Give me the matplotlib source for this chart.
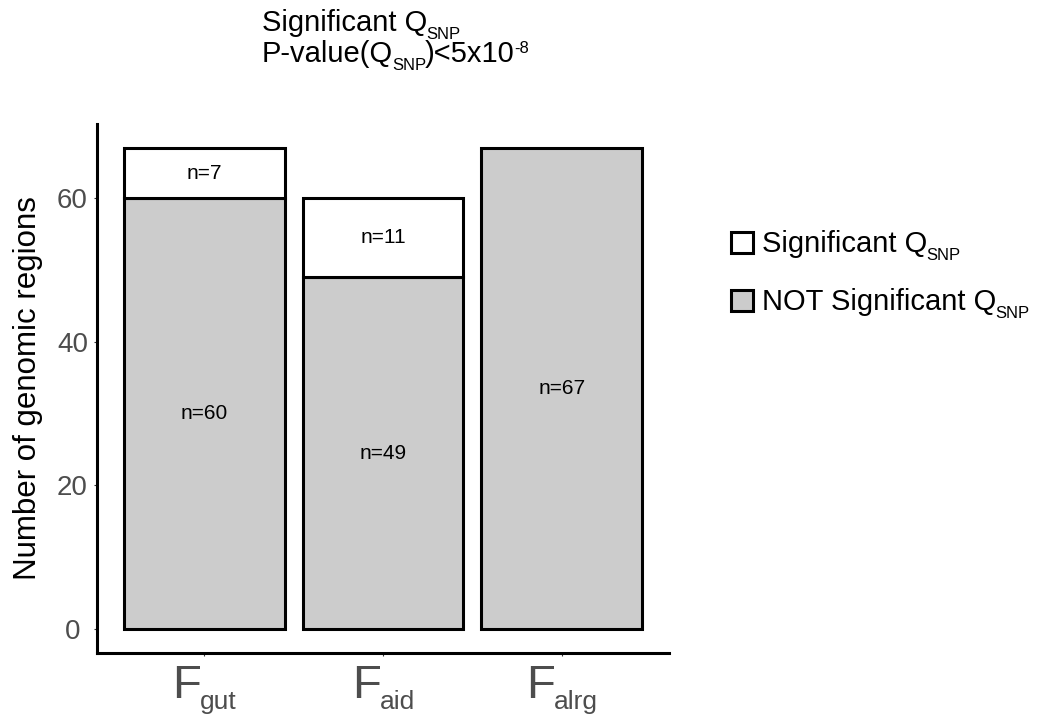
import numpy as np
import matplotlib
matplotlib.use('Agg')
import matplotlib.pyplot as plt
from matplotlib.patches import Rectangle
from matplotlib.transforms import IdentityTransform

plt.rcParams['font.family'] = ['Liberation Sans', 'DejaVu Sans']

# genomic regions per trait, split by significance of Q_SNP
traits = ['gut', 'aid', 'alrg']
not_significant = [60, 49, 67]
significant = [7, 11, 0]
y_ticks = [0, 20, 40, 60]
y_tick_labels = ['0 ', '20', '40', '60']

fill_sig = 'white'
fill_not = '#CCCCCC'
grey_text = '#4D4D4D'
edge_lw = 2.2

W, H = 1038, 717
fig = plt.figure(figsize=(W / 100, H / 100), dpi=100)
ax = fig.add_axes([97 / W, 64 / H, 572 / W, 529 / H])
renderer = fig.canvas.get_renderer()


def draw_runs(x0, y0, runs, color='black'):
    # runs are (text, fontsize, baseline shift in px); placed left to right in pixels
    texts = []
    xpos = x0
    for s, size, dy in runs:
        t = fig.text(xpos, y0 + dy, s, fontsize=size, color=color, ha='left',
                     va='baseline', transform=IdentityTransform())
        xpos += t.get_window_extent(renderer).width - 1
        texts.append(t)
    return texts, xpos - x0


x = np.arange(len(traits))
ax.bar(x, not_significant, width=0.9, color=fill_not, edgecolor='black', linewidth=edge_lw)
sig = np.array(significant)
keep = sig > 0
ax.bar(x[keep], sig[keep], bottom=np.array(not_significant)[keep], width=0.9,
       color=fill_sig, edgecolor='black', linewidth=edge_lw)

# count labels in the middle of each segment
for i in range(len(traits)):
    ax.text(x[i], not_significant[i] / 2, f'n={not_significant[i]}', ha='center',
            va='center', fontsize=15)
    if significant[i] > 0:
        ax.text(x[i], not_significant[i] + significant[i] / 2, f'n={significant[i]}',
                ha='center', va='center', fontsize=15)

ax.set_xlim(-0.6, 2.6)
ax.set_ylim(-3.35, 70.35)
for side in ['top', 'right']:
    ax.spines[side].set_visible(False)
for side in ['left', 'bottom']:
    ax.spines[side].set_linewidth(edge_lw)
ax.set_yticks(y_ticks)
ax.set_yticklabels(y_tick_labels)
ax.set_xticks(x)
ax.set_xticklabels([''] * len(traits))
ax.tick_params(axis='both', length=2, width=0.8, color='#333333', labelsize=20,
               labelcolor=grey_text, pad=4.5)
ax.set_ylabel('Number of genomic regions', fontsize=22.5, color='black')
ax.yaxis.set_label_coords(-0.095, 0.5)

# x tick labels: F with a trait subscript, centred under each bar
for i, tr in enumerate(traits):
    px, _ = ax.transData.transform((x[i], 0))
    texts, width = draw_runs(0, H - 698, [('F', 34, 0), (tr, 19, -11)], color=grey_text)
    for t in texts:
        t.set_x(t.get_position()[0] + px - width / 2)

# title
draw_runs(262, H - 31, [('Significant Q', 21, 0), ('SNP', 12, -8)])
draw_runs(262, H - 62, [('P-value(Q', 21, 0), ('SNP', 12, -8), (')<5x10', 21, 0),
                        ('-8', 12, 9)])

# legend
legend_rows = [('Significant Q', fill_sig, 253), ('NOT Significant Q', fill_not, 311)]
for label, fill, base in legend_rows:
    key = Rectangle((731, H - base), 22, 21, transform=IdentityTransform(),
                    facecolor=fill, edgecolor='black', linewidth=edge_lw)
    fig.add_artist(key)
    draw_runs(762, H - base + 1, [(label, 21, 0), ('SNP', 12, -8)])

fig.savefig('out.png', dpi=100)
